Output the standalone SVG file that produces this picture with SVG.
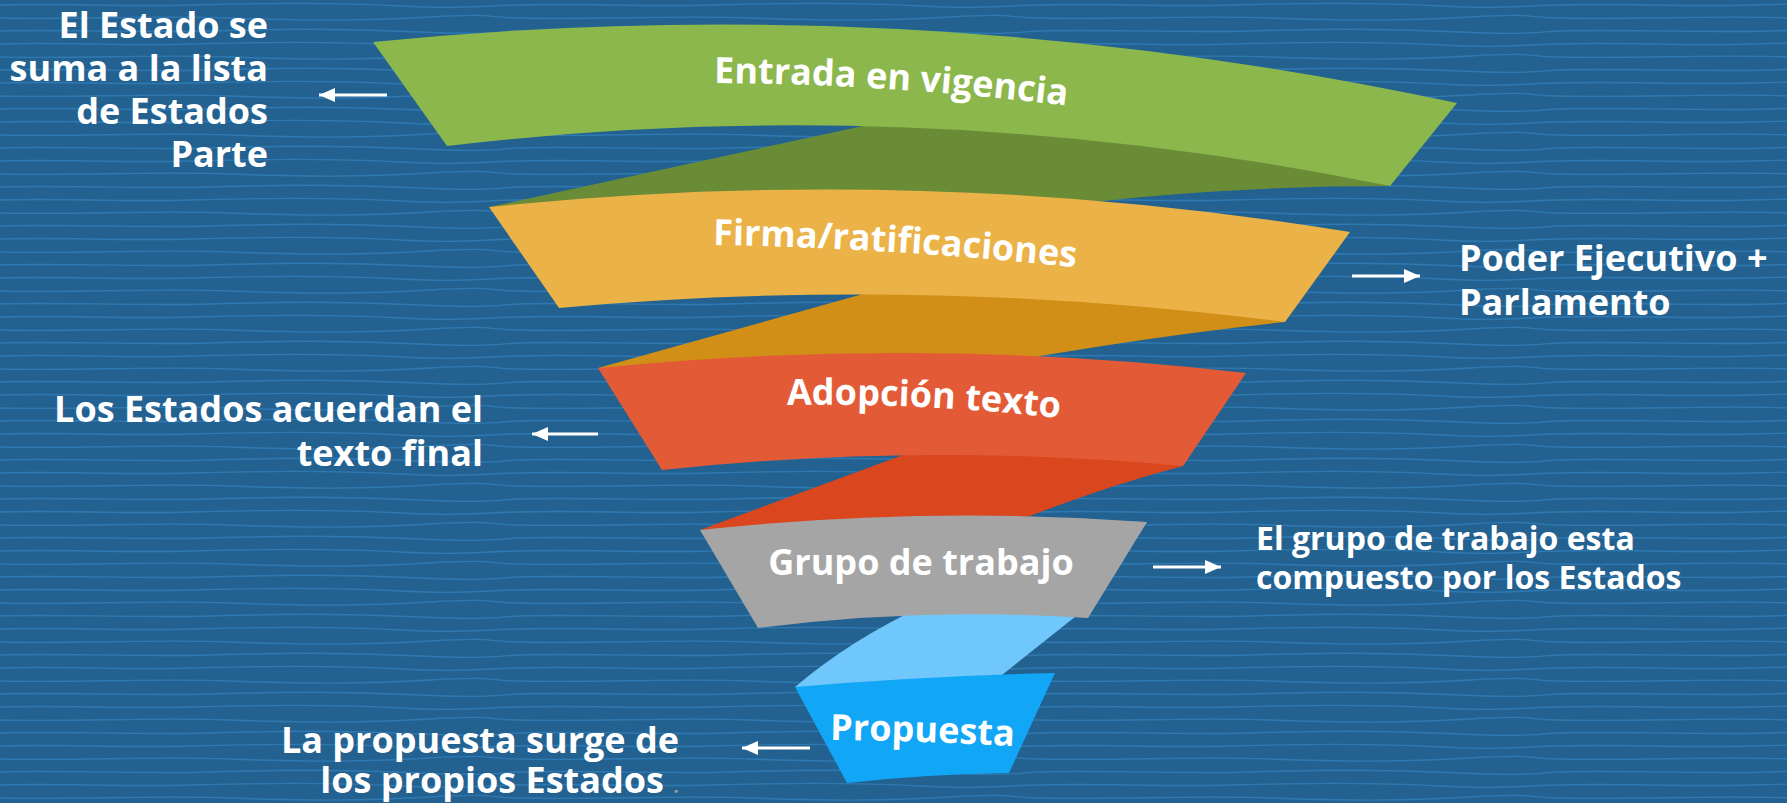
<svg xmlns="http://www.w3.org/2000/svg" width="1787" height="803" viewBox="0 0 1787 803">
  <defs>
    <pattern id="waves" x="0" y="0" width="520" height="39" patternUnits="userSpaceOnUse">
      <path d="M0,5 C60,3 120,7 190,5 S330,2 400,6 S480,5 520,5" fill="none" stroke="#2e79b2" stroke-width="1.3"/>
      <path d="M0,18 C80,20 150,15 230,18 S360,21 430,17 S490,18 520,18" fill="none" stroke="#2e79b2" stroke-width="1.3"/>
      <path d="M0,31 C50,29 140,33 210,31 S340,28 420,32 S500,31 520,31" fill="none" stroke="#2e79b2" stroke-width="1.3"/>
    </pattern>
    <marker id="ah" viewBox="0 0 16 14" refX="16" refY="7" markerWidth="16" markerHeight="14" markerUnits="userSpaceOnUse" orient="auto">
      <path d="M0,0 L16,7 L0,14 Z" fill="#ffffff"/>
    </marker>
    <path id="p-entrada" d="M614,83 L714,83 Q887.5,84 1061,105 L1161,117"/>
    <path id="p-firma" d="M613,243.3 L713,245 Q892,248 1072,267 L1172,277.6"/>
    <path id="p-adopcion" d="M687,406.9 L787,405 Q922,402.5 1057,418 L1157,429.5"/>
    <path id="p-propuesta" d="M730,740 L830,740 Q921,741 1012,746 L1112,752"/>
  </defs>
  <style>
    .lbl { font-family: "Open Sans", "Liberation Sans", sans-serif; font-weight: 700; font-size: 36px; fill: #ffffff; }
    .side { font-family: "Open Sans", "Liberation Sans", sans-serif; font-weight: 700; font-size: 36px; fill: #ffffff; }
    .end { text-anchor: end; }
    .side2 { font-family: "Open Sans", "Liberation Sans", sans-serif; font-weight: 700; font-size: 32px; fill: #ffffff; }
    .arr { stroke: #ffffff; stroke-width: 3; fill: none; marker-end: url(#ah); }
  </style>

  <rect x="0" y="0" width="1787" height="803" fill="#236190"/>
  <rect x="0" y="0" width="1787" height="803" fill="url(#waves)"/>

  <g id="folds">
    <path d="M489,207 L863,126 L900,108 L1150,118 L1391,186 Q1230,186 1083,203 L1000,225 Z" fill="#6a8c37"/>
    <path d="M598,368 L863,294 L880,285 L1280,310 L1285,322 Q1170,334 1040,356 L950,375 Z" fill="#d18f17"/>
    <path d="M700,530 L903,455 L920,445 L1180,455 L1183,466 Q1110,485 1030,516 L900,535 Z" fill="#da461e"/>
    <path d="M925,605 L1090,605 L1002,675 L950,690 L795,687 Q850,640 925,605 Z" fill="#70c7fc"/>
  </g>

  <g id="entrada">
    <path d="M373,42 Q915,-12.5 1457,103 L1390,186 Q919,90 447,146 Z" fill="#8bb74c"/>
    <text class="lbl"><textPath href="#p-entrada" startOffset="100">Entrada en vigencia</textPath></text>
  </g>
  <g id="firma">
    <path d="M489,207 Q920,162 1350,232 L1285,322 Q922,275 559,308 Z" fill="#ebb247"/>
    <text class="lbl"><textPath href="#p-firma" startOffset="100">Firma/ratificaciones</textPath></text>
  </g>
  <g id="adopcion">
    <path d="M598,368 Q922,335.5 1246,373 L1183,466 Q922,442 662,470 Z" fill="#e35b36"/>
    <text class="lbl"><textPath href="#p-adopcion" startOffset="100">Adopción texto</textPath></text>
  </g>
  <g id="grupo">
    <path d="M700,530 Q923.5,506 1147,522 L1088,618 Q923,607 758,628 Z" fill="#a5a5a5"/>
    <text class="lbl" x="921" y="575" text-anchor="middle">Grupo de trabajo</text>
  </g>
  <g id="propuesta">
    <path d="M795,687 Q925,676 1055,673 L1009,773 Q928,774 847,783 Z" fill="#12a6f6"/>
    <text class="lbl"><textPath href="#p-propuesta" startOffset="100">Propuesta</textPath></text>
  </g>

  <g id="note-entrada">
    <text class="side end" x="268" y="38">El Estado se</text>
    <text class="side end" x="268" y="81">suma a la lista</text>
    <text class="side end" x="268" y="124">de Estados</text>
    <text class="side end" x="268" y="167">Parte</text>
  </g>
  <g id="note-firma">
    <text class="side" x="1459" y="271">Poder Ejecutivo +</text>
    <text class="side" x="1459" y="315">Parlamento</text>
  </g>
  <g id="note-adopcion">
    <text class="side end" x="483" y="422">Los Estados acuerdan el</text>
    <text class="side end" x="483" y="466">texto final</text>
  </g>
  <g id="note-grupo">
    <text class="side2" x="1256" y="550">El grupo de trabajo esta</text>
    <text class="side2" x="1256" y="589">compuesto por los Estados</text>
  </g>
  <g id="note-propuesta">
    <text class="side end" x="679" y="753">La propuesta surge de</text>
    <text class="side end" x="679" y="793">los propios Estados <tspan fill="#8d99a6" font-size="20">.</tspan></text>
  </g>

  <g id="connectors">
    <line class="arr" x1="387" y1="95" x2="319" y2="95"/>
    <line class="arr" x1="1352" y1="276" x2="1420" y2="276"/>
    <line class="arr" x1="598" y1="434" x2="532" y2="434"/>
    <line class="arr" x1="1153" y1="567" x2="1221" y2="567"/>
    <line class="arr" x1="810" y1="748" x2="742" y2="748"/>
  </g>
</svg>
